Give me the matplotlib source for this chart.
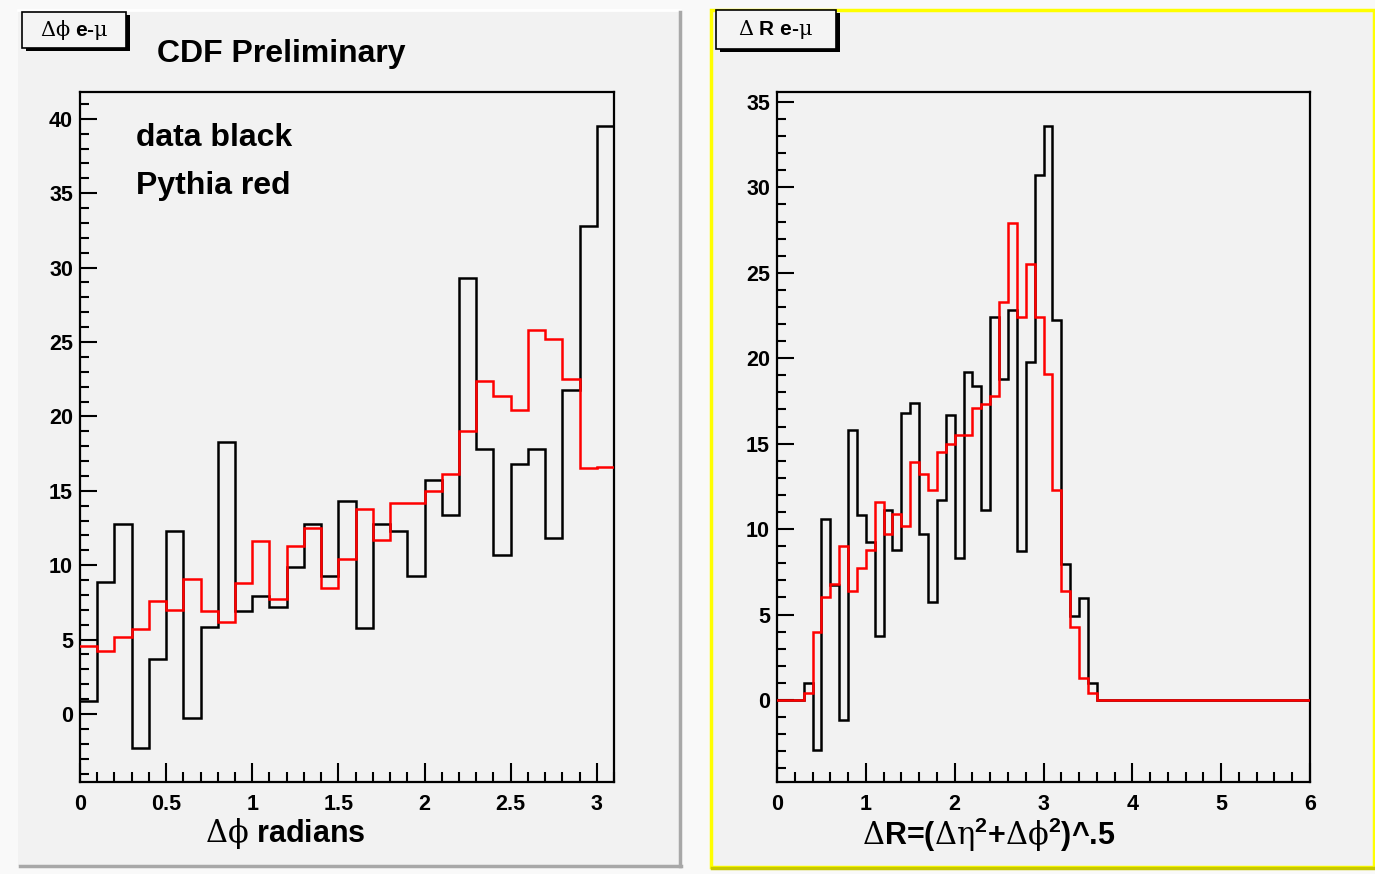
import numpy as np
import matplotlib
matplotlib.use("Agg")
import matplotlib.pyplot as plt
from matplotlib.patches import Rectangle
from matplotlib.ticker import MultipleLocator, FormatStrFormatter

plt.rcParams['font.family'] = ['Liberation Sans', 'DejaVu Sans']
plt.rcParams['font.weight'] = 'bold'
# greek letters in a thin serif face (like ROOT's symbol font), the rest bold sans
plt.rcParams['mathtext.fontset'] = 'custom'
plt.rcParams['mathtext.rm'] = 'DejaVu Serif:weight=normal'
plt.rcParams['mathtext.default'] = 'regular'

# ------------------------------------------------------------
# data: delta phi (31 bins of 0.1 rad) and delta R (60 bins of 0.1)
# ------------------------------------------------------------
dphi_edges = np.linspace(0.0, 3.1, 32)
dphi_data = [0.9, 8.9, 12.8, -2.3, 3.7, 12.3, -0.3, 5.85, 18.3, 6.9,
             7.9, 7.2, 9.9, 12.8, 9.3, 14.3, 5.75, 12.8, 12.3, 9.3,
             15.7, 13.4, 29.3, 17.8, 10.7, 16.8, 17.8, 11.8, 21.8, 32.8, 39.5]
dphi_pythia = [4.6, 4.2, 5.2, 5.7, 7.6, 7.0, 9.1, 6.9, 6.2, 8.8,
               11.6, 7.75, 11.3, 12.5, 8.5, 10.4, 13.75, 11.7, 14.15, 14.15,
               15.0, 16.1, 19.0, 22.4, 21.4, 20.4, 25.8, 25.2, 22.5, 16.5, 16.6]

dr_edges = np.linspace(0.0, 6.0, 61)
dr_data = [0, 0, 0, 1.0, -2.9, 10.6, 6.75, -1.2, 15.8, 10.8,
           9.25, 3.75, 11.1, 8.8, 16.8, 17.4, 9.7, 5.75, 11.7, 16.7,
           8.3, 19.2, 18.4, 11.1, 22.4, 18.8, 22.8, 8.7, 19.8, 30.75,
           33.6, 22.25, 7.96, 4.9, 5.95, 1.0, 0, 0, 0, 0,
           0, 0, 0, 0, 0, 0, 0, 0, 0, 0,
           0, 0, 0, 0, 0, 0, 0, 0, 0, 0]
dr_pythia = [0, 0, 0, 0.4, 4.0, 6.0, 6.8, 9.0, 6.4, 7.75,
             8.8, 11.6, 9.7, 10.9, 10.2, 13.9, 13.2, 12.3, 14.5, 15.0,
             15.5, 15.5, 17.1, 17.3, 17.8, 23.3, 27.9, 22.4, 25.5, 22.4,
             19.1, 12.3, 6.35, 4.3, 1.3, 0.4, 0, 0, 0, 0,
             0, 0, 0, 0, 0, 0, 0, 0, 0, 0,
             0, 0, 0, 0, 0, 0, 0, 0, 0, 0]

W, H = 1375, 874
PAD = '#f2f2f2'


def fx(px):
    return px / W


def fy(py):
    return 1 - py / H


def hist_line(ax, edges, values, color, z):
    # ROOT style outline: step through every bin, no drop at the ends
    ax.step(edges, np.append(values, values[-1]), where='post', color=color,
            lw=1.8, zorder=z, solid_joinstyle='miter')


fig = plt.figure(figsize=(W / 100, H / 100), dpi=100)
fig.patch.set_facecolor('#f9f9f9')

# ============================================================
# PADS (ROOT style canvas boxes)
# ============================================================

fig.add_artist(Rectangle((fx(18), fy(866)), fx(680) - fx(18), fy(10) - fy(866),
                         transform=fig.transFigure, facecolor=PAD, edgecolor='none', zorder=0))
fig.add_artist(plt.Line2D([fx(18), fx(680)], [fy(10), fy(10)], transform=fig.transFigure,
                          color='white', lw=2, zorder=1))
fig.add_artist(plt.Line2D([fx(680), fx(680)], [fy(12), fy(866)], transform=fig.transFigure,
                          color='#a8a8a8', lw=2.5, zorder=1))
fig.add_artist(plt.Line2D([fx(20), fx(681)], [fy(866), fy(866)], transform=fig.transFigure,
                          color='#a8a8a8', lw=2.5, zorder=1))

# right pad, selected (yellow border)
fig.add_artist(Rectangle((fx(711), fy(867)), fx(1374) - fx(711), fy(10) - fy(867),
                         transform=fig.transFigure, facecolor=PAD, edgecolor='#ffff00',
                         lw=2.5, zorder=0))
fig.add_artist(plt.Line2D([fx(712), fx(1375)], [fy(868), fy(868)], transform=fig.transFigure,
                          color='#c8c800', lw=2.5, zorder=1))


def title_box(x0, y0, x1, y1, label):
    fig.add_artist(Rectangle((fx(x0 + 4), fy(y1 + 3)), fx(x1) - fx(x0), fy(y0) - fy(y1),
                             transform=fig.transFigure, facecolor='black', edgecolor='none', zorder=2))
    fig.add_artist(Rectangle((fx(x0), fy(y1)), fx(x1) - fx(x0), fy(y0) - fy(y1),
                             transform=fig.transFigure, facecolor='#f4f4f4', edgecolor='black',
                             lw=1.2, zorder=3))
    fig.text(fx((x0 + x1) / 2), fy((y0 + y1) / 2), label, ha='center', va='center',
             fontsize=15, zorder=4)


# ============================================================
# LEFT: delta phi
# ============================================================

ax1 = fig.add_axes([fx(80), fy(782), fx(614) - fx(80), fy(92) - fy(782)])
hist_line(ax1, dphi_edges, dphi_data, 'black', 2)
hist_line(ax1, dphi_edges, dphi_pythia, '#ff0000', 3)
ax1.set_xlim(0, 3.1)
ax1.set_ylim(-4.57, 41.8)
ax1.xaxis.set_major_locator(MultipleLocator(0.5))
ax1.xaxis.set_minor_locator(MultipleLocator(0.1))
ax1.yaxis.set_major_locator(MultipleLocator(5))
ax1.yaxis.set_minor_locator(MultipleLocator(1))

ax1.text(0.105, 1 - (146 - 92) / 690, 'data black', transform=ax1.transAxes,
         fontsize=23, va='baseline')
ax1.text(0.105, 1 - (194 - 92) / 690, 'Pythia red', transform=ax1.transAxes,
         fontsize=23, va='baseline')

# ============================================================
# RIGHT: delta R
# ============================================================

ax2 = fig.add_axes([fx(777), fy(782), fx(1310) - fx(777), fy(92) - fy(782)])
hist_line(ax2, dr_edges, dr_data, 'black', 2)
hist_line(ax2, dr_edges, dr_pythia, '#ff0000', 3)
ax2.set_xlim(0, 6)
ax2.set_ylim(-4.8, 35.58)
ax2.xaxis.set_major_locator(MultipleLocator(1))
ax2.xaxis.set_minor_locator(MultipleLocator(0.2))
ax2.yaxis.set_major_locator(MultipleLocator(5))
ax2.yaxis.set_minor_locator(MultipleLocator(1))

for ax in (ax1, ax2):
    ax.set_facecolor(PAD)
    for s in ax.spines.values():
        s.set_linewidth(1.6)
    ax.xaxis.set_major_formatter(FormatStrFormatter('%g'))
    ax.yaxis.set_major_formatter(FormatStrFormatter('%g'))
    ax.tick_params(which='both', direction='in', top=False, right=False,
                   labelsize=15.5, width=1.5)
    ax.tick_params(axis='x', which='major', length=14, pad=9)
    ax.tick_params(axis='x', which='minor', length=7)
    ax.tick_params(axis='y', which='major', length=12, pad=5)
    ax.tick_params(axis='y', which='minor', length=6.5)
    for lab in ax.get_xticklabels() + ax.get_yticklabels():
        lab.set_fontweight('bold')

# headers and axis titles
fig.text(fx(157), fy(62), 'CDF Preliminary', fontsize=23, va='baseline')
fig.text(fx(205), fy(842), r'$\mathrm{\Delta\phi}$ radians', fontsize=22, va='baseline')
fig.text(fx(862), fy(845),
         r'$\mathrm{\Delta}$R=($\mathrm{\Delta\eta}^{2}$+$\mathrm{\Delta\phi}^{2}$)^.5',
         fontsize=22, va='baseline')

title_box(22, 12, 126, 48, r'$\mathrm{\Delta\phi}$ e-$\mathrm{\mu}$')
title_box(716, 10, 836, 49, r'$\mathrm{\Delta}$ R e-$\mathrm{\mu}$')

fig.savefig('out.png', dpi=100, facecolor=fig.get_facecolor())
